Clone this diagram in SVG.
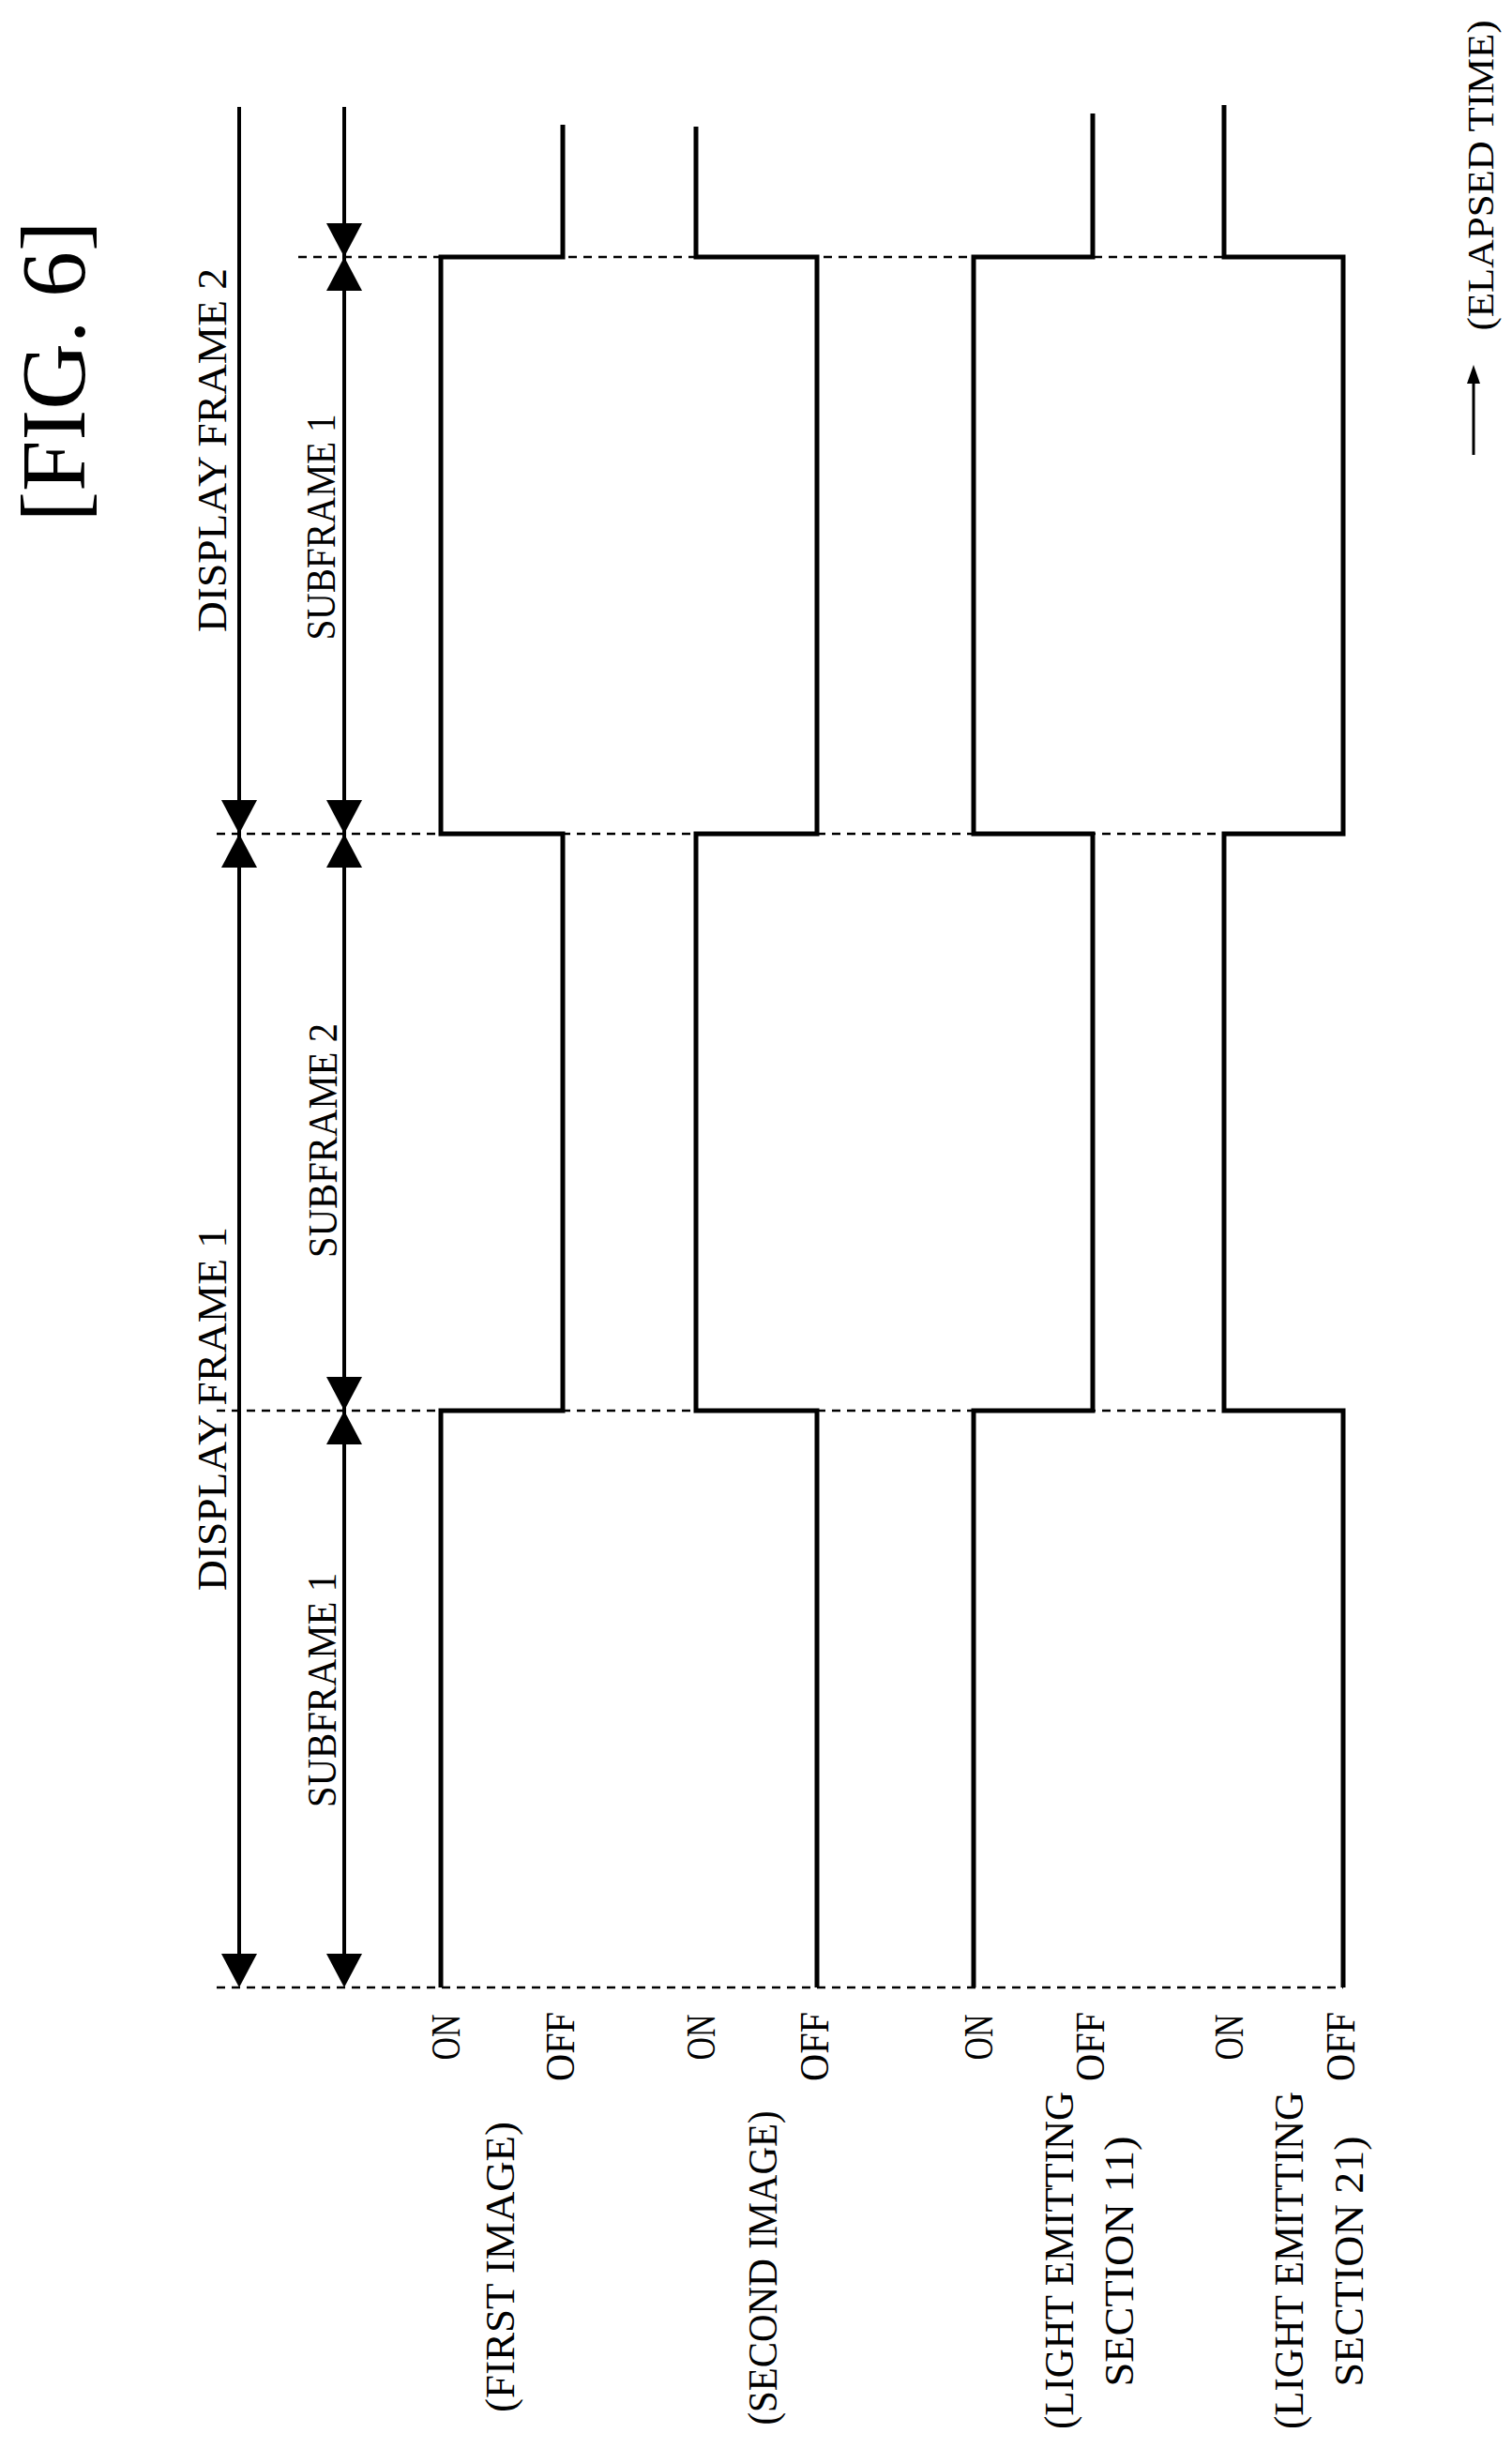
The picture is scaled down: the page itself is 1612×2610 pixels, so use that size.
<svg xmlns="http://www.w3.org/2000/svg" xmlns:xlink="http://www.w3.org/1999/xlink" width="1612" height="2610" viewBox="0 0 1612 2610">
<style>
.sig{fill:none;stroke:#000;stroke-width:5;stroke-linejoin:miter}
.ax{fill:none;stroke:#000;stroke-width:4}
.dash{fill:none;stroke:#000;stroke-width:2.5;stroke-dasharray:9,7}
.t{font-family:"Liberation Serif",serif;font-size:44px;fill:#000}
.ah{fill:#000}
</style>
<defs>
<path id="ad" d="M-19,-36 L19,-36 L0,0 Z"/>
<path id="au" d="M-19,36 L19,36 L0,0 Z"/>
</defs>
<rect width="1612" height="2610" fill="#fff"/>
<text class="t" transform="translate(90,396) rotate(-90)" text-anchor="middle" style="font-size:98px">[FIG. 6]</text>
<g id="connectors">
<line class="dash" x1="318" y1="274" x2="1432" y2="274"/>
<line class="dash" x1="231" y1="889" x2="1432" y2="889"/>
<line class="dash" x1="231" y1="1504" x2="1432" y2="1504"/>
<line class="dash" x1="231" y1="2119" x2="1432" y2="2119"/>
<line class="ax" x1="255" y1="114" x2="255" y2="2100"/>
<line class="ax" x1="367" y1="114" x2="367" y2="2100"/>
<g class="ah">
<use xlink:href="#ad" x="255" y="889"/><use xlink:href="#au" x="255" y="889"/><use xlink:href="#ad" x="255" y="2119"/>
<use xlink:href="#ad" x="367" y="274"/><use xlink:href="#au" x="367" y="274"/>
<use xlink:href="#ad" x="367" y="889"/><use xlink:href="#au" x="367" y="889"/>
<use xlink:href="#ad" x="367" y="1504"/><use xlink:href="#au" x="367" y="1504"/>
<use xlink:href="#ad" x="367" y="2119"/>
</g>
<line x1="1571" y1="405" x2="1571" y2="485" stroke="#000" stroke-width="3"/>
<path d="M1564,409 L1578,409 L1571,389 Z" fill="#000"/>
</g>
<g id="frame-labels">
<text class="t" transform="translate(241,480) rotate(-90)" text-anchor="middle" textLength="388" lengthAdjust="spacingAndGlyphs">DISPLAY  FRAME  2</text>
<text class="t" transform="translate(241,1502) rotate(-90)" text-anchor="middle" textLength="388" lengthAdjust="spacingAndGlyphs">DISPLAY  FRAME  1</text>
<text class="t" transform="translate(357,562) rotate(-90)" text-anchor="middle" textLength="241" lengthAdjust="spacingAndGlyphs">SUBFRAME  1</text>
<text class="t" transform="translate(359,1216) rotate(-90)" text-anchor="middle" textLength="250" lengthAdjust="spacingAndGlyphs">SUBFRAME  2</text>
<text class="t" transform="translate(358,1802) rotate(-90)" text-anchor="middle" textLength="250" lengthAdjust="spacingAndGlyphs">SUBFRAME  1</text>
<text class="t" transform="translate(1592,187) rotate(-90)" text-anchor="middle" style="font-size:40px" textLength="331" lengthAdjust="spacingAndGlyphs">(ELAPSED  TIME)</text>
</g>
<g id="first-image">
<path class="sig" d="M470,2119 V1504 H600 V889 H470 V274 H600 V133"/>
<text class="t" transform="translate(490,2172) rotate(-90)" text-anchor="middle" textLength="49" lengthAdjust="spacingAndGlyphs">ON</text>
<text class="t" transform="translate(612,2182) rotate(-90)" text-anchor="middle" textLength="74" lengthAdjust="spacingAndGlyphs">OFF</text>
<text class="t" transform="translate(548,2417) rotate(-90)" text-anchor="middle" textLength="310" lengthAdjust="spacingAndGlyphs">(FIRST  IMAGE)</text>
</g>
<g id="second-image">
<path class="sig" d="M871,2119 V1504 H742 V889 H871 V274 H742 V135"/>
<text class="t" transform="translate(762,2172) rotate(-90)" text-anchor="middle" textLength="49" lengthAdjust="spacingAndGlyphs">ON</text>
<text class="t" transform="translate(883,2182) rotate(-90)" text-anchor="middle" textLength="74" lengthAdjust="spacingAndGlyphs">OFF</text>
<text class="t" transform="translate(828,2418) rotate(-90)" text-anchor="middle" textLength="335" lengthAdjust="spacingAndGlyphs">(SECOND  IMAGE)</text>
</g>
<g id="light-emitting-11">
<path class="sig" d="M1038,2119 V1504 H1165 V889 H1038 V274 H1165 V121"/>
<text class="t" transform="translate(1058,2172) rotate(-90)" text-anchor="middle" textLength="49" lengthAdjust="spacingAndGlyphs">ON</text>
<text class="t" transform="translate(1177,2182) rotate(-90)" text-anchor="middle" textLength="74" lengthAdjust="spacingAndGlyphs">OFF</text>
<text class="t" transform="translate(1144,2410) rotate(-90)" text-anchor="middle" textLength="360" lengthAdjust="spacingAndGlyphs">(LIGHT  EMITTING</text>
<text class="t" transform="translate(1208,2411) rotate(-90)" text-anchor="middle" textLength="267" lengthAdjust="spacingAndGlyphs">SECTION  11)</text>
</g>
<g id="light-emitting-21">
<path class="sig" d="M1432,2119 V1504 H1305 V889 H1432 V274 H1305 V112"/>
<text class="t" transform="translate(1325,2172) rotate(-90)" text-anchor="middle" textLength="49" lengthAdjust="spacingAndGlyphs">ON</text>
<text class="t" transform="translate(1444,2182) rotate(-90)" text-anchor="middle" textLength="74" lengthAdjust="spacingAndGlyphs">OFF</text>
<text class="t" transform="translate(1389,2410) rotate(-90)" text-anchor="middle" textLength="360" lengthAdjust="spacingAndGlyphs">(LIGHT  EMITTING</text>
<text class="t" transform="translate(1453,2411) rotate(-90)" text-anchor="middle" textLength="267" lengthAdjust="spacingAndGlyphs">SECTION  21)</text>
</g>
</svg>
